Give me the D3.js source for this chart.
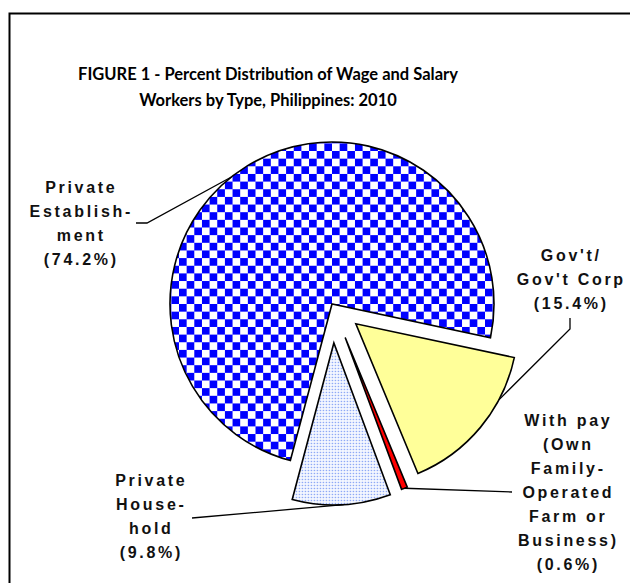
<!DOCTYPE html>
<html>
<head>
<meta charset="utf-8">
<script src="https://cdn.jsdelivr.net/npm/d3@7"></script>
<style>
  body { margin: 0; background: #fff; }
  svg { display: block; }
</style>
</head>
<body>
<svg width="630" height="583"></svg>
<script>
// data
var categories = ["Private Establishment", "Gov't/Gov't Corp", "With pay (Own Family-Operated Farm or Business)", "Private Household"];
var percents = [74.2, 15.4, 0.6, 9.8];
var labelLines = [
    ["Private", "Establish-", "ment", "(74.2%)"],
    ["Gov't/", "Gov't Corp", "(15.4%)"],
    ["With pay", "(Own", "Family-", "Operated", "Farm or", "Business)", "(0.6%)"],
    ["Private", "House-", "hold", "(9.8%)"]
];
var titleLines = ["FIGURE 1 - Percent Distribution of Wage and Salary", "Workers by Type, Philippines:  2010"];

var svg = d3.select("svg"),
    width = +svg.attr("width"),
    height = +svg.attr("height");

var cx = 332, cy = 304, radius = 162;
var deg = Math.PI / 180;

// slice styles (how far each slice is pulled out, fills)
var explode = [0, 31, 36, 39];
var fills = ["url(#checker)", "#ffff99", "#ff0000", "url(#dots)"];
// label placement: centre x, first baseline, leader start points, angle where leader meets the arc
var labelPos = [
    {x: 80, y: 192.5, leader: [[136, 223], [147, 223]], hit: 321.6},
    {x: 570, y: 260.5, leader: [[570, 318], [570, 329]], hit: 118},
    {x: 567, y: 425.5, leader: [[512, 492]], hit: null},
    {x: 150, y: 485.5, leader: [[192, 518]], hit: 176.5}
];

var defs = svg.append("defs");
var checker = defs.append("pattern")
    .attr("id", "checker")
    .attr("patternUnits", "userSpaceOnUse")
    .attr("width", 15.3).attr("height", 15.3);
checker.append("rect").attr("width", 15.3).attr("height", 15.3).attr("fill", "#fff");
checker.append("rect").attr("width", 7.65).attr("height", 7.65).attr("fill", "#0000ff");
checker.append("rect").attr("x", 7.65).attr("y", 7.65).attr("width", 7.65).attr("height", 7.65).attr("fill", "#0000ff");

var dots = defs.append("pattern")
    .attr("id", "dots")
    .attr("patternUnits", "userSpaceOnUse")
    .attr("width", 3).attr("height", 3);
dots.append("rect").attr("width", 3).attr("height", 3).attr("fill", "#f4f7ff");
dots.append("circle").attr("cx", 1.5).attr("cy", 1.5).attr("r", 0.75).attr("fill", "#7d9bf4");

svg.append("rect")
    .attr("width", width).attr("height", height)
    .attr("fill", "#fff");

// chart frame (runs off the right and bottom of the picture)
svg.append("rect")
    .attr("x", 9.5).attr("y", 13.5)
    .attr("width", 660).attr("height", 640)
    .attr("fill", "none")
    .attr("stroke", "#000")
    .attr("stroke-width", 2);

svg.selectAll(".title")
    .data(titleLines)
    .enter().append("text")
    .attr("class", "title")
    .attr("x", 268)
    .attr("y", function(d, i) { return 80 + i * 26; })
    .attr("text-anchor", "middle")
    .style("font-family", "Lato, 'Open Sans', sans-serif")
    .style("font-weight", "bold")
    .style("font-size", "16.5px")
    .text(function(d) { return d; });

var pie = d3.pie()
    .sort(null)
    .value(function(d) { return d; })
    .startAngle(-165.1 * deg)
    .endAngle(194.9 * deg);

var arcs = pie(percents);

var arc = d3.arc()
    .innerRadius(0)
    .outerRadius(radius);

function offset(a, i) {
    var m = (a.startAngle + a.endAngle) / 2;
    return [cx + explode[i] * Math.sin(m), cy - explode[i] * Math.cos(m)];
}

svg.selectAll(".slice")
    .data(arcs)
    .enter().append("path")
    .attr("class", "slice")
    .attr("transform", function(d, i) {
        var o = offset(d, i);
        return "translate(" + o[0] + "," + o[1] + ")";
    })
    .attr("d", arc)
    .attr("fill", function(d, i) { return fills[i]; })
    .attr("stroke", "#000")
    .attr("stroke-width", 1.6)
    .attr("stroke-linejoin", "miter");

// leader lines
var line = d3.line();
arcs.forEach(function(a, i) {
    var o = offset(a, i);
    var ang = labelPos[i].hit == null ? (a.startAngle + a.endAngle) / 2 : labelPos[i].hit * deg;
    var end = [o[0] + radius * Math.sin(ang), o[1] - radius * Math.cos(ang)];
    var pts = labelPos[i].leader.concat([end]);
    svg.append("path")
        .attr("d", line(pts))
        .attr("fill", "none")
        .attr("stroke", "#000")
        .attr("stroke-width", 1.3);
});

// slice labels
labelLines.forEach(function(lines, i) {
    svg.append("text")
        .attr("text-anchor", "middle")
        .style("font-family", "'Liberation Sans', Arial, sans-serif")
        .style("font-weight", "bold")
        .style("font-size", "16px")
        .style("letter-spacing", "2.7px")
        .attr("fill", "#111")
        .selectAll("tspan")
        .data(lines)
        .enter().append("tspan")
        .attr("x", labelPos[i].x + 1.3)
        .attr("y", function(d, j) { return labelPos[i].y + j * 24; })
        .text(function(d) { return d; });
});
</script>
</body>
</html>
